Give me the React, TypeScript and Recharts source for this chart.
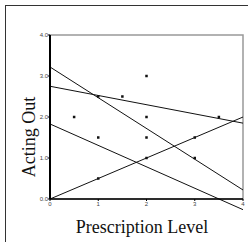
import { ComposedChart, Scatter, XAxis, YAxis, ReferenceLine, ReferenceArea } from 'recharts';

// observed points (prescription level, acting out)
const pointX = [0.5, 1, 1, 1, 1.5, 2, 2, 2, 2, 3, 3, 3.5];
const pointY = [2, 2.5, 1.5, 0.5, 2.5, 3, 2, 1.5, 1, 1.5, 1, 2];

// fitted lines, read as [x1, y1, x2, y2]
const fitLines = [
  [0, 3.22, 4, 0.22],
  [0, 2.75, 4, 1.85],
  [0, 1.83, 4, -0.26],
  [0, 0, 4, 2.0],
];

const xTicks = [0, 1, 2, 3, 4];
const yTicks = [0, 1, 2, 3, 4];

const points = pointX.map((x, i) => ({ x, y: pointY[i] }));

const Square = (props: any) => (
  <rect x={props.cx - 1.25} y={props.cy - 1.25} width={2.5} height={2.5} fill="#111" />
);

const App = () => {
  return (
    <div style={{ position: 'absolute', left: 0, top: 0, width: 248, height: 242, background: '#fff' }}>
      <svg width={248} height={242} style={{ position: 'absolute', left: 0, top: 0 }}>
        <line x1={6} y1={5.5} x2={248} y2={5.5} stroke="#333" strokeWidth={1} />
        <line x1={5.5} y1={5} x2={5.5} y2={242} stroke="#333" strokeWidth={1} />
        <text x={142} y={233} textAnchor="middle" fontFamily="'Liberation Serif', serif" fontSize={18} fill="#111">
          Prescription Level
        </text>
        <text
          transform="translate(35,137) rotate(-90)"
          textAnchor="middle"
          fontFamily="'Liberation Serif', serif"
          fontSize={18}
          fill="#111"
        >
          Acting Out
        </text>
      </svg>
      <div style={{ position: 'absolute', left: 0, top: 0 }}>
        <ComposedChart width={248} height={242} margin={{ top: 35, right: 5, bottom: 0, left: 0 }}>
          <ReferenceArea x1={0} x2={4} y1={0} y2={4} fill="none" stroke="#999" strokeWidth={1.5} ifOverflow="visible" />
          <XAxis
            type="number"
            dataKey="x"
            domain={[0, 4]}
            ticks={xTicks}
            height={43}
            tickSize={2}
            tickMargin={1}
            allowDataOverflow
            axisLine={{ stroke: '#000', strokeWidth: 1.5 }}
            tickLine={{ stroke: '#000' }}
            tick={{ fontSize: 6, fill: '#444', fontFamily: "'Liberation Sans', Arial, sans-serif" }}
          />
          <YAxis
            type="number"
            dataKey="y"
            domain={[0, 4]}
            ticks={yTicks}
            width={50}
            tickSize={2}
            tickMargin={0}
            allowDataOverflow
            tickFormatter={(v: number) => v.toFixed(1)}
            axisLine={{ stroke: '#000', strokeWidth: 2 }}
            tickLine={{ stroke: '#000' }}
            tick={{ fontSize: 6, fill: '#444', fontFamily: "'Liberation Sans', Arial, sans-serif" }}
          />
          {fitLines.map((l, i) => (
            <ReferenceLine
              key={i}
              segment={[{ x: l[0], y: l[1] }, { x: l[2], y: l[3] }]}
              stroke="#111"
              strokeWidth={1}
              ifOverflow="visible"
            />
          ))}
          <Scatter data={points} shape={Square} isAnimationActive={false} />
        </ComposedChart>
      </div>
    </div>
  );
};

export default App;
